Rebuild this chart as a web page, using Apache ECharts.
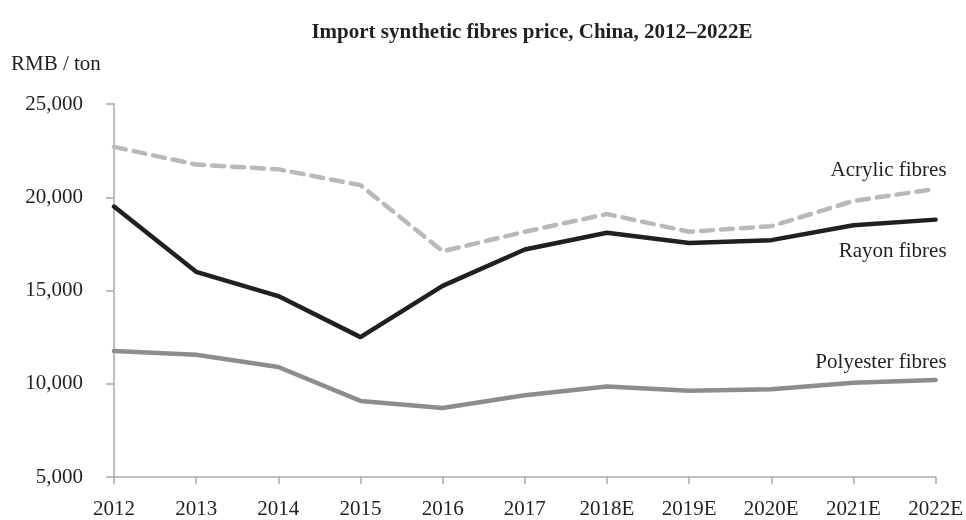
<!DOCTYPE html>
<html>
<head>
<meta charset="utf-8">
<script src="https://cdn.jsdelivr.net/npm/echarts@6/dist/echarts.min.js"></script>
<style>
  html, body { margin: 0; padding: 0; background: #fff; }
  #chart { width: 966px; height: 520px; }
</style>
</head>
<body>
<div id="chart"></div>
<script>
var years = ['2012', '2013', '2014', '2015', '2016', '2017', '2018E', '2019E', '2020E', '2021E', '2022E'];
var acrylic = [22700, 21750, 21500, 20650, 17100, 18150, 19100, 18150, 18450, 19800, 20450];
var rayon = [19500, 16000, 14700, 12500, 15250, 17200, 18100, 17550, 17700, 18500, 18800];
var polyester = [11750, 11550, 10900, 9080, 8700, 9380, 9850, 9620, 9700, 10050, 10200];

var serif = '"Liberation Serif", "DejaVu Serif", serif';

function endLabel(text, dy) {
    return {
        show: true,
        formatter: text,
        fontFamily: serif,
        fontSize: 21,
        color: '#231f20',
        align: 'right',
        verticalAlign: 'middle',
        offset: [3, dy]
    };
}

var chart = echarts.init(document.getElementById('chart'));

chart.setOption({
    animation: false,
    title: {
        text: 'Import synthetic fibres price, China, 2012\u20132022E',
        left: 527,
        textAlign: 'center',
        top: 17,
        textStyle: { fontFamily: serif, fontSize: 21, fontWeight: 'bold', color: '#231f20' }
    },
    grid: { left: 114, right: 29, top: 104, bottom: 42 },
    xAxis: {
        type: 'category',
        data: years,
        boundaryGap: false,
        axisLine: { lineStyle: { color: '#a7a9ac', width: 1.5 } },
        axisTick: { alignWithLabel: true, length: 7, lineStyle: { color: '#a7a9ac', width: 1.5 } },
        axisLabel: { fontFamily: serif, fontSize: 21, color: '#231f20', margin: 22 }
    },
    yAxis: {
        type: 'value',
        min: 5000,
        max: 25000,
        interval: 5000,
        name: 'RMB / ton',
        nameLocation: 'end',
        nameGap: 29,
        nameTextStyle: { fontFamily: serif, fontSize: 21, color: '#231f20', align: 'left', padding: [0, 0, 0, -103] },
        splitLine: { show: false },
        axisLine: { show: true, lineStyle: { color: '#a7a9ac', width: 1.5 } },
        axisTick: { show: true, length: 8, lineStyle: { color: '#a7a9ac', width: 1.5 } },
        axisLabel: {
            fontFamily: serif, fontSize: 21, color: '#231f20', margin: 31,
            formatter: function (v) { return v.toLocaleString('en-US'); }
        }
    },
    series: [
        {
            name: 'Acrylic fibres',
            type: 'line',
            data: acrylic,
            symbol: 'none',
            lineStyle: { color: '#b8b9bc', width: 4.5, type: [12, 8], cap: 'round' },
            endLabel: endLabel('Acrylic fibres', -18),
            z: 2
        },
        {
            name: 'Rayon fibres',
            type: 'line',
            data: rayon,
            symbol: 'none',
            lineStyle: { color: '#231f20', width: 4.5, cap: 'round' },
            endLabel: endLabel('Rayon fibres', 32),
            z: 3
        },
        {
            name: 'Polyester fibres',
            type: 'line',
            data: polyester,
            symbol: 'none',
            lineStyle: { color: '#8c8d90', width: 4.5, cap: 'round' },
            endLabel: endLabel('Polyester fibres', -18),
            z: 3
        }
    ]
});
</script>
</body>
</html>
